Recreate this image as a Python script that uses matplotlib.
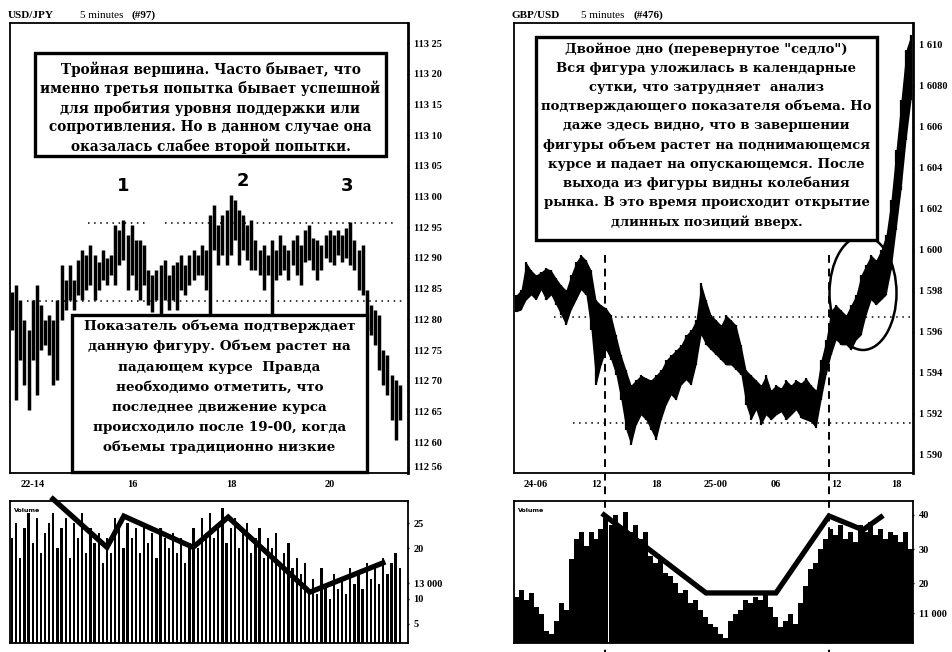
import matplotlib
matplotlib.use("Agg")
import matplotlib.pyplot as plt
import numpy as np
from matplotlib.patches import Rectangle, Ellipse
from matplotlib.lines import Line2D
from matplotlib.transforms import blended_transform_factory

W, H = 952, 652

# ---------------- USD/JPY (left) ----------------
usd_high = [112.845, 112.856, 112.831, 112.799, 112.783, 112.831, 112.856, 112.823, 112.799, 112.807,
            112.799, 112.831, 112.888, 112.864, 112.888, 112.864, 112.897, 112.913, 112.905, 112.921,
            112.905, 112.893, 112.913, 112.900, 112.905, 112.954, 112.945, 112.962, 112.937, 112.954,
            112.929, 112.929, 112.921, 112.880, 112.872, 112.880, 112.888, 112.897, 112.872, 112.888,
            112.893, 112.905, 112.888, 112.905, 112.913, 112.905, 112.921, 112.913, 112.970, 112.986,
            112.954, 112.970, 112.978, 113.002, 112.994, 112.978, 112.970, 112.954, 112.962, 112.929,
            112.913, 112.921, 112.905, 112.929, 112.913, 112.937, 112.921, 112.913, 112.929, 112.937,
            112.921, 112.945, 112.954, 112.932, 112.929, 112.921, 112.937, 112.945, 112.937, 112.945,
            112.937, 112.949, 112.958, 112.929, 112.913, 112.921, 112.848, 112.823, 112.815, 112.807,
            112.750, 112.742, 112.709, 112.701, 112.693]
usd_low = [112.783, 112.669, 112.734, 112.693, 112.652, 112.734, 112.677, 112.750, 112.758, 112.742,
           112.693, 112.701, 112.799, 112.815, 112.831, 112.815, 112.840, 112.831, 112.848, 112.856,
           112.831, 112.848, 112.864, 112.856, 112.872, 112.856, 112.888, 112.897, 112.848, 112.872,
           112.848, 112.831, 112.856, 112.823, 112.812, 112.831, 112.807, 112.831, 112.815, 112.831,
           112.815, 112.848, 112.840, 112.856, 112.864, 112.872, 112.872, 112.848, 112.807, 112.913,
           112.888, 112.905, 112.888, 112.905, 112.929, 112.888, 112.913, 112.897, 112.880, 112.880,
           112.872, 112.848, 112.872, 112.799, 112.864, 112.872, 112.880, 112.864, 112.888, 112.872,
           112.856, 112.893, 112.897, 112.880, 112.864, 112.880, 112.900, 112.893, 112.888, 112.905,
           112.893, 112.900, 112.888, 112.880, 112.848, 112.840, 112.783, 112.774, 112.758, 112.717,
           112.693, 112.677, 112.636, 112.603, 112.636]
usd_volume = [22, 25, 18, 24, 27, 21, 26, 19, 23, 25,
              27, 20, 24, 26, 18, 25, 22, 27, 19, 24,
              21, 23, 17, 22, 19, 26, 24, 20, 25, 22,
              24, 19, 25, 21, 23, 18, 24, 22, 20, 23,
              19, 22, 17, 21, 24, 20, 26, 23, 27, 22,
              25, 28, 21, 24, 26, 20, 23, 25, 19, 22,
              24, 18, 22, 20, 23, 17, 19, 21, 16, 18,
              15, 17, 12, 14, 11, 16, 13, 10, 15, 12,
              14, 11, 16, 13, 15, 12, 17, 14, 16, 13,
              18, 15, 17, 19, 16]
usd_trend_x = [10.4, 23.5, 27.6, 44.4, 52.9, 72.7, 90.4]
usd_trend_v = [29.8, 20.2, 26.4, 20.2, 26.2, 11.3, 17.1]
usd_time_ticks = [5.6, 29.6, 53.6, 77.6]
usd_time_labels = ["22-14", "16", "18", "20"]
usd_price_ticks = [113.25, 113.20, 113.15, 113.10, 113.05, 113.00, 112.95, 112.90,
                   112.85, 112.80, 112.75, 112.70, 112.65, 112.60, 112.56]
usd_price_labels = ["113 25", "113 20", "113 15", "113 10", "113 05", "113 00", "112 95",
                    "112 90", "112 85", "112 80", "112 75", "112 70", "112 65", "112 60", "112 56"]
usd_vol_ticks = [25, 20, 13.1, 10, 5]
usd_vol_labels = ["25", "20", "13 000", "10", "5"]
usd_resistance = 112.957
usd_resistance_spans = [(18.9, 33.2), (37.6, 92.9)]
usd_support = 112.83
usd_support_span = (4.1, 95.8)
usd_peak_x = [27.4, 56.5, 81.7]
usd_peak_y = [113.002, 113.010, 113.002]
usd_peak_labels = ["1", "2", "3"]

# ---------------- GBP/USD (right) ----------------
gbp_t = np.arange(4.0, 44.0, 0.5)
gbp_high = [1.59780, 1.59805, 1.59941, 1.59902, 1.59878, 1.59893, 1.59912, 1.59902, 1.59863, 1.59829,
            1.59805, 1.59878, 1.59941, 1.59976, 1.59951, 1.59902, 1.59756, 1.59732, 1.59717, 1.59683,
            1.59585, 1.59488, 1.59415, 1.59341, 1.59366, 1.59390, 1.59376, 1.59366, 1.59390, 1.59415,
            1.59463, 1.59488, 1.59512, 1.59537, 1.59585, 1.59610, 1.59659, 1.59839, 1.59756, 1.59683,
            1.59659, 1.59634, 1.59683, 1.59659, 1.59634, 1.59537, 1.59415, 1.59390, 1.59366, 1.59341,
            1.59390, 1.59317, 1.59341, 1.59327, 1.59366, 1.59341, 1.59366, 1.59351, 1.59376, 1.59341,
            1.59317, 1.59463, 1.59561, 1.59707, 1.59732, 1.59707, 1.59683, 1.59732, 1.59780, 1.59878,
            1.59927, 1.59976, 1.59951, 1.60000, 1.60073, 1.60244, 1.60488, 1.60732, 1.60976, 1.61049]
gbp_low = [1.59698, 1.59707, 1.59756, 1.59780, 1.59756, 1.59805, 1.59756, 1.59780, 1.59732, 1.59683,
           1.59634, 1.59707, 1.59756, 1.59805, 1.59780, 1.59610, 1.59341, 1.59439, 1.59512, 1.59463,
           1.59390, 1.59268, 1.59122, 1.59049, 1.59146, 1.59195, 1.59171, 1.59122, 1.59073, 1.59171,
           1.59244, 1.59293, 1.59268, 1.59341, 1.59366, 1.59341, 1.59439, 1.59585, 1.59537, 1.59512,
           1.59488, 1.59463, 1.59439, 1.59439, 1.59415, 1.59390, 1.59244, 1.59171, 1.59220, 1.59146,
           1.59195, 1.59171, 1.59195, 1.59210, 1.59171, 1.59195, 1.59220, 1.59180, 1.59171, 1.59161,
           1.59132, 1.59268, 1.59390, 1.59488, 1.59561, 1.59537, 1.59537, 1.59512, 1.59561, 1.59585,
           1.59683, 1.59756, 1.59732, 1.59756, 1.59780, 1.59902, 1.60098, 1.60293, 1.60537, 1.60732]
gbp_volume = [16, 18, 15, 17, 13, 11, 6, 5, 9, 14,
              12, 27, 33, 35, 31, 35, 33, 36, 39, 37,
              40, 36, 41, 35, 37, 33, 35, 28, 26, 27,
              23, 22, 20, 17, 18, 14, 15, 12, 10, 8,
              7, 5, 4, 9, 11, 12, 15, 14, 16, 15,
              17, 13, 10, 7, 9, 11, 8, 14, 19, 24,
              26, 30, 33, 36, 34, 37, 33, 35, 32, 37,
              35, 38, 34, 36, 33, 35, 34, 32, 35, 30]
gbp_trend_t = [12.8, 23.0, 30.0, 35.3, 38.7, 40.5]
gbp_trend_v = [40.0, 17.1, 17.1, 39.7, 35.6, 39.4]
gbp_time_ticks = [6, 12, 18, 24, 30, 36, 42]
gbp_time_labels = ["24-06", "12", "18", "25-00", "06", "12", "18"]
gbp_price_ticks = [1.610, 1.608, 1.606, 1.604, 1.602, 1.600, 1.598, 1.596, 1.594, 1.592, 1.590]
gbp_price_labels = ["1 610", "1 6080", "1 606", "1 604", "1 602", "1 600", "1 598", "1 596",
                    "1 594", "1 592", "1 590"]
gbp_vol_ticks = [40, 30, 20, 11.2]
gbp_vol_labels = ["40", "30", "20", "11 000"]
gbp_upper_level = 1.59673
gbp_upper_span = (7.8, 43.6)
gbp_lower_level = 1.59156
gbp_lower_span = (9.7, 43.6)
gbp_markers = [12.9, 35.3]
gbp_circle_center = (38.7, 1.59790)
gbp_circle_size = (6.7, 0.00556)

left_top_lines = [
    "Тройная вершина. Часто бывает, что",
    "именно третья попытка бывает успешной",
    "для пробития уровня поддержки или",
    "сопротивления. Но в данном случае она",
    "оказалась слабее второй попытки.",
]
left_bottom_lines = [
    "Показатель объема подтверждает",
    "данную фигуру. Объем растет на",
    "падающем курсе  Правда",
    "необходимо отметить, что",
    "последнее движение курса",
    "происходило после 19-00, когда",
    "объемы традиционно низкие",
]
right_lines = [
    'Двойное дно (перевернутое "седло")',
    "Вся фигура уложилась в календарные",
    "сутки, что затрудняет  анализ",
    "подтверждающего показателя объема. Но",
    "даже здесь видно, что в завершении",
    "фигуры объем растет на поднимающемся",
    "курсе и падает на опускающемся. После",
    "выхода из фигуры видны колебания",
    "рынка. В это время происходит открытие",
    "длинных позиций вверх.",
]

# ---------------- figure ----------------
plt.rcParams['font.family'] = ['DejaVu Serif']
fig = plt.figure(figsize=(9.52, 6.52), dpi=100)
fig.patch.set_facecolor("white")


def px_axes(x0, y0, x1, y1):
    return fig.add_axes([x0 / W, 1 - y1 / H, (x1 - x0) / W, (y1 - y0) / H])


ax_lp = px_axes(10, 23, 408, 473)
ax_lv = px_axes(10, 501, 408, 643)
ax_rp = px_axes(514, 23, 913, 473)
ax_rv = px_axes(514, 501, 913, 643)

tick_font = dict(family='Liberation Serif', weight='bold', size=7.5)


def style(ax, right_lw=1.3):
    for s in ax.spines.values():
        s.set_linewidth(1.3)
    ax.spines['right'].set_linewidth(right_lw)
    ax.yaxis.tick_right()
    ax.tick_params(axis='y', length=2, width=1, direction='inout', pad=3)
    ax.tick_params(axis='x', length=0, pad=5)
    for lab in ax.get_xticklabels() + ax.get_yticklabels():
        lab.set_fontproperties(matplotlib.font_manager.FontProperties(**tick_font))


# Left price
ux = np.arange(len(usd_high)) + 0.5
ax_lp.vlines(ux, usd_low, usd_high, color='black', linewidth=2.5)
for a, b in usd_resistance_spans:
    ax_lp.hlines(usd_resistance, a, b, color='black', linewidth=1.1, linestyles=(0, (1, 3)))
ax_lp.hlines(usd_support, *usd_support_span, color='black', linewidth=1.1, linestyles=(0, (1, 3)))
for x, y, s in zip(usd_peak_x, usd_peak_y, usd_peak_labels):
    ax_lp.text(x, y, s, ha='center', va='bottom', fontsize=13, fontweight='bold', family='DejaVu Sans')
ax_lp.set_xlim(0, 96.5)
ax_lp.set_ylim(112.5497, 113.2826)
ax_lp.set_yticks(usd_price_ticks, usd_price_labels)
ax_lp.set_xticks(usd_time_ticks, usd_time_labels)
style(ax_lp, right_lw=2.0)

# Left volume
ax_lv.bar(ux, usd_volume, width=0.55, color='black')
ax_lv.plot(usd_trend_x, usd_trend_v, color='black', linewidth=3.8, clip_on=False,
           solid_joinstyle='miter')
ax_lv.set_xlim(0, 96.5)
ax_lv.set_ylim(1.2, 29.4)
ax_lv.set_yticks(usd_vol_ticks, usd_vol_labels)
ax_lv.set_xticks([])
ax_lv.text(0.01, 0.95, "Volume", transform=ax_lv.transAxes, fontsize=4.5, va='top',
           family='DejaVu Sans', fontweight='bold')
style(ax_lv)

# Right price
ax_rp.fill_between(gbp_t, gbp_low, gbp_high, color='black', linewidth=0)
ax_rp.vlines(gbp_t, gbp_low, gbp_high, color='black', linewidth=1.6)
ax_rp.hlines(gbp_upper_level, *gbp_upper_span, color='black', linewidth=1.1, linestyles=(0, (1, 3)))
ax_rp.hlines(gbp_lower_level, *gbp_lower_span, color='black', linewidth=1.1, linestyles=(0, (1, 3)))
ax_rp.add_patch(Ellipse(gbp_circle_center, *gbp_circle_size, fill=False, edgecolor='black',
                        linewidth=1.8))
ax_rp.set_xlim(3.8, 43.7)
ax_rp.set_ylim(1.58912, 1.61107)
ax_rp.set_yticks(gbp_price_ticks, gbp_price_labels)
ax_rp.set_xticks(gbp_time_ticks, gbp_time_labels)
style(ax_rp, right_lw=2.0)

# Right volume
ax_rv.bar(gbp_t, gbp_volume, width=0.5, color='black')
ax_rv.plot(gbp_trend_t, gbp_trend_v, color='black', linewidth=3.8, solid_joinstyle='miter')
ax_rv.set_xlim(3.8, 43.7)
ax_rv.set_ylim(2.4, 44.1)
ax_rv.set_yticks(gbp_vol_ticks, gbp_vol_labels)
ax_rv.set_xticks([])
ax_rv.text(0.01, 0.95, "Volume", transform=ax_rv.transAxes, fontsize=4.5, va='top',
           family='DejaVu Sans', fontweight='bold')
style(ax_rv)

# Dashed marker lines across both right panels
tr = blended_transform_factory(ax_rp.transData, fig.transFigure)
for t in gbp_markers:
    fig.add_artist(Line2D([t, t], [1 - 255 / H, 0], transform=tr, color='black',
                          linewidth=1.4, linestyle=(0, (4, 3))))

# Overlay for titles and text boxes (pixel coordinates)
ax_o = fig.add_axes([0, 0, 1, 1], zorder=10)
ax_o.set_xlim(0, W)
ax_o.set_ylim(H, 0)
ax_o.axis('off')
ax_o.patch.set_alpha(0)

renderer = fig.canvas.get_renderer()


def fit_size(line, target, base=10.0):
    t = ax_o.text(0, 0, line, fontsize=base, fontweight='bold', family='DejaVu Serif')
    w = t.get_window_extent(renderer).width
    t.remove()
    return base * target / w


def text_box(x0, y0, x1, y1, lines, ys, ref_idx, target):
    ax_o.add_patch(Rectangle((x0, y0), x1 - x0, y1 - y0, facecolor='white',
                             edgecolor='black', linewidth=2.4))
    fs = fit_size(lines[ref_idx], target)
    cx = (x0 + x1) / 2
    for line, y in zip(lines, ys):
        ax_o.text(cx, y, line, ha='center', va='center', fontsize=fs, fontweight='bold',
                  family='DejaVu Serif')


text_box(35, 53, 386, 156, left_top_lines, [69, 88, 108, 127, 146], 1, 340)
text_box(72, 315, 367, 472, left_bottom_lines, [326, 346, 367, 387, 408, 428, 447], 1, 262)
text_box(536, 37, 877, 240, right_lines, list(np.linspace(49, 222, 10)), 3, 334)

# Titles
ax_o.text(8, 15, "USD/JPY", fontsize=8, fontweight='bold', family='Liberation Serif', va='center')
ax_o.text(80, 15, "5 minutes", fontsize=8, family='Liberation Serif', va='center')
ax_o.text(132, 15, "(#97)", fontsize=8, fontweight='bold', family='Liberation Serif', va='center')
ax_o.text(511, 15, "GBP/USD", fontsize=8, fontweight='bold', family='Liberation Serif', va='center')
ax_o.text(581, 15, "5 minutes", fontsize=8, family='Liberation Serif', va='center')
ax_o.text(633, 15, "(#476)", fontsize=8, fontweight='bold', family='Liberation Serif', va='center')

fig.savefig("out.png", dpi=100, facecolor='white')
